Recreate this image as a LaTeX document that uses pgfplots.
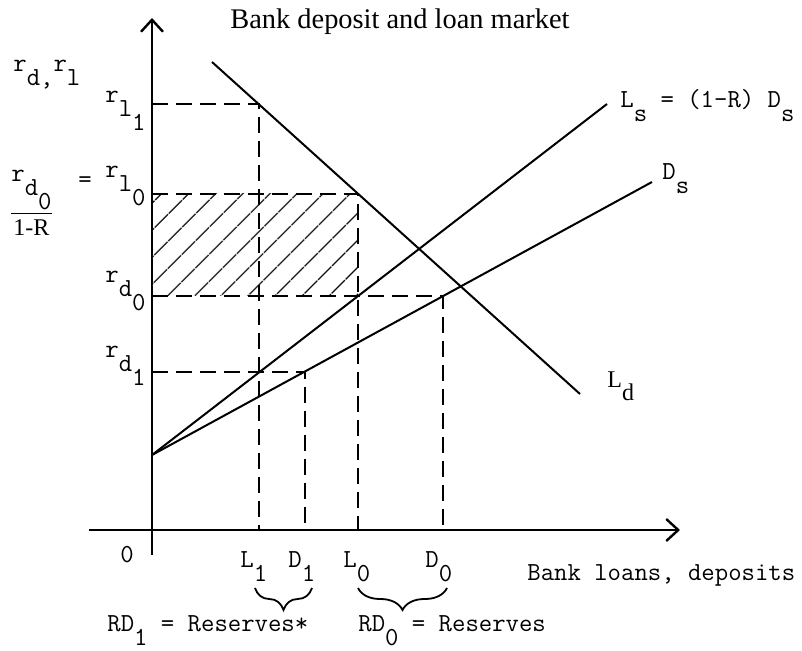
\documentclass[border=0pt]{standalone}
\usepackage{fontspec}
\setmainfont{Liberation Serif}
\usepackage{pgfplots}
\pgfplotsset{compat=1.18}
\usetikzlibrary{patterns.meta,decorations.pathreplacing,arrows.meta}

% lowered subscript, same size as the letter (typewriter style)
\newcommand\lo[1]{\raisebox{-7bp}{#1}}

\begin{document}
\begin{tikzpicture}[
  lbl/.style={font=\ttfamily\fontsize{13bp}{15bp}\selectfont, inner sep=0pt},
  rml/.style={font=\rmfamily\fontsize{12bp}{14bp}\selectfont, inner sep=0pt},
]
\begin{axis}[
  x=5bp, y=5bp,
  axis lines=middle,
  axis line style={line width=1.2bp},
  every inner x axis line/.append style={-{Straight Barb[length=6bp,width=11bp]}},
  every inner y axis line/.append style={-{Straight Barb[length=6bp,width=11bp]}},
  xmin=-6.3, xmax=52.8, ymin=-2.5, ymax=51.2,
  xtick=\empty, ytick=\empty,
  clip=false,
  curve/.style={black, line width=1bp, mark=none},
  dash/.style={black, mark=none, line width=0.9bp, dash pattern=on 8bp off 4bp},
]
% hatched area between r_d0 and r_l0 up to L0
\addplot[draw=none, pattern={Lines[angle=45,distance=10bp,line width=0.8bp]}]
  coordinates {(0,23.4) (20.6,23.4) (20.6,33.6) (0,33.6) (0,23.4)};

% supply and demand curves
\addplot[curve] coordinates {(0,7.5) (45.5,42.6)};   % Ls
\addplot[curve] coordinates {(0,7.5) (50.0,34.8)};   % Ds
\addplot[curve] coordinates {(6.0,46.8) (42.8,13.6)}; % Ld

% dashed guides
\addplot[dash] coordinates {(0,42.6) (10.7,42.6) (10.7,0)};
\addplot[dash] coordinates {(0,33.6) (20.6,33.6) (20.6,0)};
\addplot[dash] coordinates {(0,23.4) (29.1,23.4) (29.1,0)};
\addplot[dash] coordinates {(0,15.8) (15.3,15.8) (15.3,0)};

% title
\node[font=\rmfamily\fontsize{14.2bp}{17bp}\selectfont, anchor=base, inner sep=0pt]
  at (axis cs:24.8,50.1) {Bank deposit and loan market};

% vertical axis labels
\node[lbl, anchor=base west] at (axis cs:-13.9,45.8) {r\lo{d,}r\lo{l}};
\node[lbl, anchor=base east] at (axis cs:-0.6,42.7) {r\lo{l\lo{1}}};
\node[lbl, anchor=base east] at (axis cs:-0.6,35.2) {r\lo{l\lo{0}}};
\node[lbl, anchor=base] at (axis cs:-6.7,34.2) {=};
\node[anchor=base, inner sep=0pt, font=\fontsize{13bp}{15bp}\selectfont]
  at (axis cs:-12.05,31.1)
  {$\displaystyle\frac{\hbox{\ttfamily r\lo{d\lo{0}}}}{\hbox{\rmfamily\fontsize{12bp}{14bp}\selectfont 1-R}}$};
\node[lbl, anchor=base east] at (axis cs:-0.6,24.7) {r\lo{d\lo{0}}};
\node[lbl, anchor=base east] at (axis cs:-0.6,17.2) {r\lo{d\lo{1}}};

% horizontal axis labels
\node[lbl, anchor=base] at (axis cs:-2.5,-3.2) {0};
\node[lbl, anchor=base west] at (axis cs:8.8,-3.7) {L\lo{1}};
\node[lbl, anchor=base west] at (axis cs:13.6,-3.7) {D\lo{1}};
\node[lbl, anchor=base west] at (axis cs:19.1,-3.7) {L\lo{0}};
\node[lbl, anchor=base west] at (axis cs:27.3,-3.7) {D\lo{0}};
\node[lbl, anchor=base west] at (axis cs:37.5,-5.0) {Bank loans, deposits};

\draw[decorate, decoration={brace, mirror, amplitude=11bp}, line width=0.9bp]
  (axis cs:10.3,-5.8) -- (axis cs:16.0,-5.8);
\draw[decorate, decoration={brace, mirror, amplitude=11bp}, line width=0.9bp]
  (axis cs:20.6,-5.8) -- (axis cs:29.5,-5.8);
\node[lbl, anchor=base west] at (axis cs:-4.5,-10.1) {RD\lo{1} = Reserves*};
\node[lbl, anchor=base west] at (axis cs:20.6,-10.1) {RD\lo{0} = Reserves};

% curve labels
\node[lbl, anchor=base west] at (axis cs:46.8,42.2) {L\lo{s} = (1-R) D\lo{s}};
\node[lbl, anchor=base west] at (axis cs:51.0,35.0) {D\lo{s}};
\node[rml, anchor=base west] at (axis cs:45.5,14.2) {L\raisebox{-6.5bp}{d}};

\coordinate (bbl) at (axis cs:-15.2,-12.1);
\coordinate (btr) at (axis cs:65,53);
\end{axis}
\pgfresetboundingbox
\path[use as bounding box] (bbl) rectangle (btr);
\end{tikzpicture}
\end{document}
